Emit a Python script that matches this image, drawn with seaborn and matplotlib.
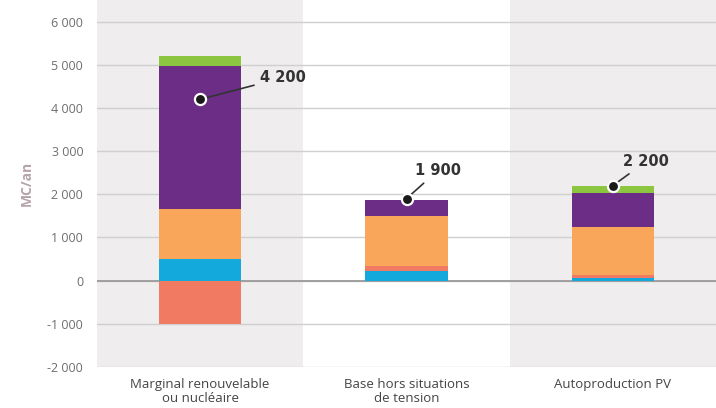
import numpy as np
import matplotlib
matplotlib.use("Agg")
import matplotlib.pyplot as plt
import seaborn as sns

# data (M€/an)
categories = ["Marginal renouvelable\nou nucléaire", "Base hors situations\nde tension", "Autoproduction PV"]
blue = [500, 230, 50]
red = [-1000, 120, 70]
orange = [1160, 1150, 1130]
purple = [3300, 360, 770]
green = [240, 0, 180]
totals = [4200, 1900, 2200]
total_labels = ["4 200", "1 900", "2 200"]
yticks = [-2000, -1000, 0, 1000, 2000, 3000, 4000, 5000, 6000]
ytick_labels = ["-2 000", "-1 000", "0", "1 000", "2 000", "3 000", "4 000", "5 000", "6 000"]

colors = {"blue": "#14a9dc", "red": "#f07b62", "orange": "#f9a65a",
          "purple": "#6b2d86", "green": "#8cc540"}

sns.set_theme(style="white")
plt.rcParams["font.family"] = ["Open Sans", "DejaVu Sans"]

fig = plt.figure(figsize=(7.16, 4.08), dpi=100)
ax = fig.add_axes([0.1355, 0.1005, 0.8645, 0.8995])

# alternating background bands
for i in range(len(categories)):
    if i % 2 == 0:
        ax.axvspan(i - 0.5, i + 0.5, color="#efeded", zorder=0, lw=0)

ax.set_axisbelow(True)
ax.grid(axis="y", color="#cfcfcf", lw=1.0)
ax.grid(axis="x", visible=False)

# stack layers: positives stack upward from 0, negatives downward
pos_bottom = np.zeros(len(categories))
neg_bottom = np.zeros(len(categories))
for name, vals in [("blue", blue), ("red", red), ("orange", orange),
                   ("purple", purple), ("green", green)]:
    vals = np.array(vals, dtype=float)
    bottom = np.where(vals >= 0, pos_bottom, neg_bottom)
    sns.barplot(x=categories, y=vals, bottom=bottom, color=colors[name],
                width=0.4, saturation=1, ax=ax, zorder=3, linewidth=0)
    pos_bottom += np.where(vals > 0, vals, 0)
    neg_bottom += np.where(vals < 0, vals, 0)

ax.axhline(0, color="#9a9a9a", lw=1.3, zorder=2)

# net total markers + labels
offsets = [(0.29, 500), (0.04, 650), (0.05, 560)]
for i, (t, lab) in enumerate(zip(totals, total_labels)):
    dx, dy = offsets[i]
    ax.annotate(lab, xy=(i, t), xytext=(i + dx, t + dy), fontsize=10.5,
                fontweight="bold", color="#333333", va="center", ha="left",
                family="DejaVu Sans",
                arrowprops=dict(arrowstyle="-", color="#333333", lw=1.2,
                                shrinkA=2, shrinkB=0), zorder=6)
    ax.plot(i, t, "o", ms=8, mfc="#1a1a1a", mec="white", mew=1.6, zorder=7)

ax.set_xlim(-0.5, 2.5)
ax.set_ylim(-2000, 6500)
ax.set_yticks(yticks)
ax.set_yticklabels(ytick_labels, fontsize=9, color="#6e6e6e")
ax.tick_params(axis="x", labelsize=9.5, labelcolor="#444444", pad=8, length=0)
for lbl in ax.get_xticklabels():
    lbl.set_linespacing(1.05)
ax.tick_params(axis="y", length=0, pad=10)
ax.set_ylabel("MC/an", fontsize=10, color="#b5a3aa", fontweight="bold", labelpad=10)
ax.set_xlabel("")
for s in ax.spines.values():
    s.set_visible(False)

fig.savefig("out.png", dpi=100)
